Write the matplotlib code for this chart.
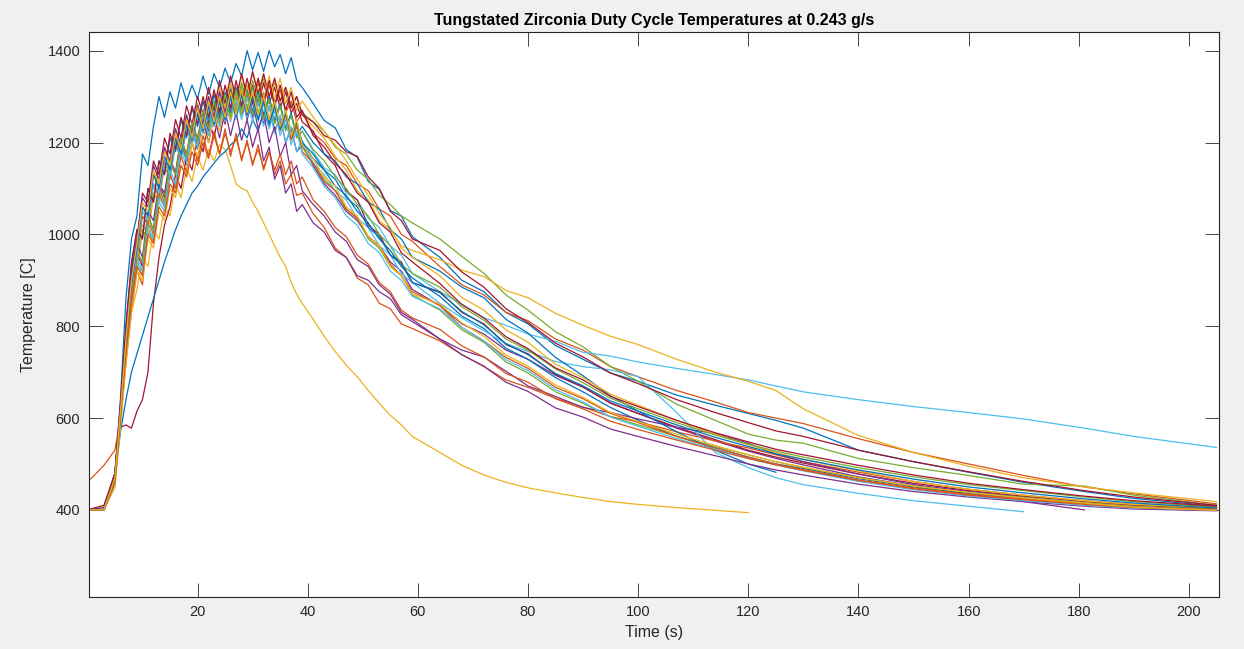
import matplotlib.pyplot as plt

# time samples (s) shared by all runs; a run that stopped early is just shorter
t_grid = [0, 3, 5, 6, 7, 8,
          9, 10, 11, 12, 13, 14, 15, 16, 17, 18, 19, 20, 21, 22, 23, 24,
          25, 26, 27, 28, 29, 30, 31, 32, 33, 34, 35, 36, 37, 38, 39,
          41, 43, 45, 47, 49, 51, 53, 55, 57, 59,
          64, 68, 72, 76, 80, 85, 90, 95, 100, 107, 114, 120, 125, 130,
          140, 150, 160, 170, 181, 190, 205]

# temperatures [C], in plotting order
run01 = [400, 400, 480, 640, 860, 990,
         1040, 1175, 1150, 1235, 1300, 1255, 1310, 1275, 1330, 1290, 1325, 1295, 1345, 1305, 1350, 1320,
         1362, 1330, 1372, 1345, 1400, 1358, 1396, 1355, 1400, 1365, 1392, 1350, 1385, 1335, 1320,
         1285, 1248, 1232, 1185, 1168, 1115, 1098, 1052, 1040, 995,
         950, 900, 875, 830, 805, 758, 728, 698, 680, 650, 628, 610, 595, 578, 530, 505, 482, 460, 440, 425, 408]
run02 = [460, 497, 530, 600, 720, 830,
         920, 890, 1010, 985, 1100, 1070, 1160, 1130, 1210, 1175, 1245, 1210, 1270, 1235, 1290, 1250,
         1305, 1265, 1315, 1275, 1325, 1285, 1330, 1290, 1325, 1280, 1315, 1265, 1290, 1245, 1265,
         1220, 1200, 1165, 1150, 1110, 1095, 1055, 1040, 1000, 985,
         930, 890, 868, 830, 812, 772, 748, 712, 690, 660, 635, 612, 600, 588, 555, 525, 500, 475, 450, 435, 413]
run03 = [400, 400, 460, 590, 720, 830,
         880, 950, 930, 1010, 990, 1060, 1040, 1110, 1080, 1145, 1115, 1170, 1140, 1185, 1160, 1195,
         1185, 1150, 1110, 1100, 1095, 1070, 1050, 1025, 1000, 975, 950, 930, 895, 870, 850,
         815, 778, 745, 715, 690, 660, 632, 606, 585, 560,
         525, 497, 476, 460, 448, 437, 427, 418, 412, 405, 399, 394]
run04 = [400, 400, 470, 610, 760, 880,
         960, 930, 1040, 1010, 1110, 1090, 1165, 1135, 1210, 1170, 1240, 1205, 1265, 1225, 1285, 1240,
         1295, 1255, 1305, 1260, 1305, 1255, 1295, 1240, 1280, 1225, 1255, 1200, 1230, 1180, 1195,
         1150, 1110, 1085, 1050, 1030, 995, 975, 940, 920, 880,
         845, 805, 783, 748, 728, 693, 667, 633, 610, 578, 550, 528, 512, 498, 472, 452, 434, 418, 400]
run05 = [400, 405, 470, 600, 740, 860,
         920, 1010, 990, 1090, 1070, 1150, 1120, 1195, 1165, 1230, 1200, 1260, 1225, 1285, 1250, 1300,
         1270, 1320, 1280, 1330, 1290, 1335, 1295, 1340, 1300, 1330, 1290, 1320, 1280, 1300, 1265,
         1245, 1225, 1190, 1175, 1140, 1120, 1085, 1065, 1040, 1025,
         990, 952, 915, 868, 835, 788, 755, 712, 680, 630, 595, 565, 552, 545, 512, 492, 475, 456, 452, 432, 410]
run06 = [400, 400, 460, 590, 730, 850,
         940, 910, 1010, 990, 1070, 1050, 1130, 1100, 1180, 1150, 1220, 1185, 1250, 1215, 1275, 1240,
         1290, 1255, 1305, 1265, 1310, 1270, 1310, 1265, 1300, 1250, 1285, 1230, 1260, 1210, 1225,
         1180, 1145, 1130, 1090, 1075, 1035, 1015, 975, 955, 915,
         875, 848, 818, 802, 783, 767, 743, 735, 722, 708, 695, 683, 670, 657, 640, 625, 612, 598, 578, 560, 536]
run07 = [400, 410, 480, 580, 585, 578,
         615, 640, 700, 850, 950, 1020, 1060, 1130, 1100, 1170, 1140, 1210, 1180, 1250, 1210, 1275,
         1240, 1300, 1255, 1315, 1270, 1325, 1280, 1330, 1285, 1320, 1275, 1310, 1265, 1285, 1245,
         1225, 1175, 1150, 1095, 1075, 1020, 1000, 955, 940, 895,
         875, 830, 805, 760, 740, 695, 668, 632, 610, 580, 553, 530, 515, 502, 478, 458, 442, 430, 418, 410, 402]
run08 = [400, 400, 470, 570, 640, 700,
         740, 780, 820, 860, 900, 940, 975, 1010, 1040, 1065, 1090, 1105, 1125, 1140, 1155, 1170,
         1180, 1195, 1205, 1230, 1210, 1250, 1225, 1265, 1235, 1270, 1240, 1260, 1225, 1240, 1200,
         1165, 1140, 1105, 1085, 1050, 1025, 990, 965, 930, 905,
         865, 822, 795, 752, 728, 688, 657, 623, 595, 560, 535, 515, 500, 490, 468, 450, 436, 425, 414, 407, 400]
run09 = [400, 400, 480, 620, 780, 890,
         960, 940, 1030, 1000, 1090, 1060, 1130, 1100, 1170, 1135, 1200, 1160, 1215, 1170, 1225, 1175,
         1230, 1170, 1220, 1160, 1205, 1150, 1195, 1140, 1180, 1130, 1160, 1110, 1130, 1085, 1090,
         1045, 1015, 970, 950, 905, 890, 850, 838, 805, 795,
         768, 738, 712, 683, 667, 643, 624, 603, 592, 570, 550, 535, 520, 505, 482, 462, 445, 432, 420, 412, 403]
run10 = [400, 400, 460, 600, 740, 860,
         940, 1020, 1000, 1090, 1070, 1160, 1130, 1210, 1180, 1250, 1215, 1280, 1240, 1300, 1260, 1320,
         1275, 1330, 1290, 1345, 1300, 1350, 1310, 1345, 1300, 1335, 1290, 1320, 1275, 1300, 1260,
         1235, 1210, 1170, 1140, 1095, 1075, 1030, 1010, 975, 965,
         945, 922, 908, 878, 862, 828, 802, 778, 760, 728, 700, 680, 660, 620, 562, 525, 495, 470, 450, 437, 418]
run11 = [400, 400, 470, 610, 770, 900,
         980, 950, 1050, 1030, 1110, 1080, 1160, 1130, 1200, 1160, 1230, 1190, 1250, 1200, 1260, 1210,
         1270, 1215, 1265, 1205, 1250, 1190, 1230, 1160, 1190, 1120, 1150, 1090, 1110, 1050, 1065,
         1025, 1005, 965, 950, 910, 900, 875, 860, 825, 810,
         772, 748, 733, 702, 670, 647, 623, 612, 598, 580, 566, 545, 522, 505, 478, 455, 440, 428, 416, 408, 400]
run12 = [400, 400, 470, 610, 770, 900,
         970, 1060, 1040, 1130, 1110, 1190, 1150, 1230, 1190, 1260, 1220, 1285, 1240, 1300, 1255, 1310,
         1265, 1320, 1270, 1325, 1275, 1320, 1265, 1310, 1250, 1295, 1230, 1270, 1210, 1240, 1190,
         1155, 1120, 1095, 1055, 1035, 990, 970, 930, 910, 868,
         835, 792, 765, 722, 698, 657, 632, 603, 585, 560, 538, 520, 505, 492, 470, 452, 438, 427, 416, 408, 401]
run13 = [400, 400, 450, 590, 740, 860,
         950, 920, 1020, 990, 1080, 1060, 1140, 1110, 1190, 1160, 1225, 1190, 1255, 1215, 1275, 1235,
         1290, 1245, 1300, 1250, 1300, 1245, 1290, 1235, 1280, 1220, 1260, 1200, 1235, 1180, 1205,
         1155, 1130, 1095, 1075, 1035, 1015, 975, 955, 915, 895,
         850, 818, 790, 762, 745, 723, 712, 705, 690, 612, 525, 492, 470, 455, 436, 420, 408, 396]
run14 = [400, 400, 475, 620, 790, 920,
         990, 1090, 1070, 1160, 1130, 1210, 1175, 1250, 1210, 1280, 1240, 1300, 1260, 1320, 1270, 1335,
         1285, 1345, 1295, 1350, 1300, 1355, 1305, 1350, 1300, 1340, 1290, 1320, 1275, 1300, 1260,
         1245, 1215, 1205, 1180, 1170, 1125, 1100, 1050, 1030, 990,
         965, 918, 885, 838, 808, 763, 733, 698, 675, 640, 612, 590, 572, 560, 530, 505, 483, 462, 442, 428, 410]
run15 = [400, 400, 480, 630, 800, 930,
         1010, 990, 1100, 1070, 1160, 1130, 1210, 1180, 1250, 1210, 1275, 1235, 1290, 1245, 1305, 1255,
         1310, 1265, 1320, 1270, 1315, 1265, 1310, 1255, 1300, 1245, 1285, 1230, 1265, 1215, 1235,
         1200, 1175, 1160, 1125, 1110, 1070, 1055, 1010, 990, 950,
         920, 885, 862, 815, 785, 732, 692, 648, 615, 570, 530, 500, 482]
run16 = [400, 400, 460, 600, 750, 870,
         950, 1040, 1020, 1110, 1080, 1160, 1130, 1200, 1165, 1235, 1195, 1260, 1220, 1280, 1235, 1295,
         1250, 1305, 1255, 1310, 1260, 1305, 1250, 1295, 1240, 1280, 1225, 1260, 1205, 1235, 1180,
         1155, 1115, 1095, 1055, 1035, 995, 975, 935, 910, 875,
         845, 797, 768, 732, 708, 667, 642, 610, 590, 560, 535, 515, 500, 488, 465, 448, 434, 424, 414, 406, 400]
run17 = [400, 400, 450, 580, 720, 840,
         920, 900, 990, 970, 1050, 1030, 1100, 1080, 1150, 1130, 1200, 1170, 1230, 1200, 1260, 1225,
         1285, 1250, 1305, 1265, 1325, 1280, 1340, 1290, 1345, 1295, 1340, 1285, 1320, 1270, 1290,
         1255, 1225, 1195, 1160, 1120, 1085, 1045, 1015, 970, 950,
         910, 862, 835, 792, 765, 717, 688, 652, 628, 595, 565, 542, 525, 510, 485, 462, 445, 432, 420, 412, 405]
run18 = [400, 405, 475, 620, 780, 910,
         990, 1080, 1060, 1150, 1120, 1190, 1160, 1230, 1195, 1260, 1220, 1280, 1240, 1300, 1255, 1310,
         1265, 1315, 1260, 1305, 1250, 1290, 1230, 1265, 1200, 1235, 1170, 1200, 1130, 1150, 1095,
         1065, 1040, 1005, 985, 945, 930, 890, 870, 830, 815,
         772, 738, 713, 678, 658, 622, 602, 576, 560, 538, 518, 500, 487, 476, 456, 440, 428, 418, 408, 402, 398]
run19 = [400, 400, 465, 600, 760, 880,
         960, 940, 1040, 1010, 1100, 1070, 1160, 1130, 1210, 1170, 1245, 1205, 1270, 1230, 1290, 1245,
         1305, 1255, 1315, 1260, 1310, 1260, 1305, 1250, 1295, 1240, 1280, 1225, 1260, 1210, 1225,
         1185, 1160, 1125, 1100, 1065, 1040, 1000, 975, 935, 915,
         885, 842, 813, 772, 748, 707, 677, 643, 620, 590, 563, 543, 528, 515, 492, 472, 455, 442, 428, 418, 406]
run20 = [400, 400, 470, 610, 770, 890,
         960, 1050, 1030, 1110, 1090, 1160, 1130, 1200, 1170, 1230, 1200, 1255, 1220, 1270, 1235, 1285,
         1245, 1295, 1250, 1300, 1255, 1295, 1245, 1285, 1230, 1270, 1215, 1250, 1195, 1225, 1175,
         1145, 1105, 1080, 1040, 1020, 980, 960, 920, 900, 865,
         838, 797, 768, 727, 703, 662, 635, 602, 582, 555, 532, 512, 498, 485, 462, 444, 430, 420, 410, 404, 400]
run21 = [400, 400, 480, 630, 800, 940,
         1010, 990, 1100, 1070, 1160, 1130, 1220, 1185, 1255, 1215, 1280, 1240, 1300, 1255, 1315, 1265,
         1325, 1275, 1335, 1280, 1340, 1285, 1340, 1285, 1335, 1280, 1325, 1270, 1310, 1255, 1270,
         1215, 1190, 1155, 1130, 1090, 1070, 1025, 1005, 960, 940,
         893, 847, 818, 777, 751, 709, 683, 647, 625, 595, 568, 548, 532, 520, 497, 476, 458, 444, 430, 420, 408]
run22 = [400, 400, 470, 610, 760, 890,
         970, 1060, 1040, 1130, 1100, 1170, 1140, 1210, 1175, 1240, 1205, 1265, 1225, 1280, 1240, 1290,
         1250, 1300, 1255, 1305, 1260, 1300, 1250, 1290, 1240, 1280, 1230, 1265, 1215, 1245, 1200,
         1175, 1140, 1120, 1080, 1060, 1015, 995, 955, 935, 895,
         873, 832, 803, 762, 738, 697, 670, 637, 615, 585, 558, 538, 522, 510, 487, 467, 450, 437, 424, 415, 404]
run23 = [400, 400, 460, 600, 740, 850,
         930, 910, 1000, 980, 1060, 1040, 1110, 1090, 1150, 1125, 1180, 1150, 1200, 1165, 1215, 1175,
         1220, 1180, 1210, 1165, 1200, 1155, 1185, 1145, 1180, 1140, 1175, 1130, 1160, 1110, 1125,
         1075, 1050, 1015, 995, 955, 935, 895, 875, 835, 818,
         793, 757, 733, 697, 678, 642, 620, 593, 575, 552, 530, 512, 498, 486, 464, 446, 432, 422, 412, 405, 400]
run24 = [400, 400, 470, 615, 770, 900,
         980, 1070, 1050, 1140, 1110, 1180, 1150, 1220, 1185, 1250, 1210, 1275, 1230, 1290, 1245, 1300,
         1255, 1310, 1260, 1315, 1265, 1310, 1260, 1300, 1250, 1290, 1235, 1270, 1215, 1250, 1195,
         1165, 1125, 1105, 1060, 1040, 995, 975, 930, 910, 870,
         848, 807, 778, 737, 713, 672, 645, 612, 592, 565, 540, 520, 505, 493, 470, 452, 438, 426, 415, 406, 399]

runs = [run01, run02, run03, run04, run05, run06, run07, run08, run09, run10, run11, run12,
        run13, run14, run15, run16, run17, run18, run19, run20, run21, run22, run23, run24]
run_end = [205, 205, 120, 181, 205, 205, 205, 205, 205, 205, 205, 205,
           170, 205, 125, 205, 205, 205, 205, 205, 205, 205, 205, 205]

# MATLAB default line colours
matlab_colors = ['#0072BD', '#D95319', '#EDB120', '#7E2F8E', '#77AC30', '#4DBEEE', '#A2142F']

plt.rcParams['font.family'] = ['Liberation Sans', 'DejaVu Sans']

fig = plt.figure(figsize=(12.44, 6.49), dpi=100, facecolor='#f0f0f0')
ax = fig.add_axes([0.0713, 0.0806, 0.9088, 0.8696])

for i, temps in enumerate(runs):
    n = len(temps)
    assert t_grid[n - 1] == run_end[i], (i, n)
    ax.plot(t_grid[:n], temps, color=matlab_colors[i % 7], linewidth=0.9)

ax.set_xlim(0.24, 205.5)
ax.set_ylim(211, 1440)
ax.set_xticks([20, 40, 60, 80, 100, 120, 140, 160, 180, 200])
ax.set_yticks([400, 600, 800, 1000, 1200, 1400])

dark = '#262626'
ax.tick_params(direction='in', length=10, width=0.6, colors=dark, labelsize=10.5,
               top=True, right=True, pad=6)
for s in ax.spines.values():
    s.set_color(dark)
    s.set_linewidth(0.8)

ax.set_xlabel('Time (s)', fontsize=11.5, color=dark, labelpad=4)
ax.set_ylabel('Temperature [C]', fontsize=11.5, color=dark, labelpad=8)
ax.set_title('Tungstated Zirconia Duty Cycle Temperatures at 0.243 g/s',
             fontsize=11.5, fontweight='bold', color='black', pad=5)

fig.savefig('out.png', dpi=100, facecolor=fig.get_facecolor())
